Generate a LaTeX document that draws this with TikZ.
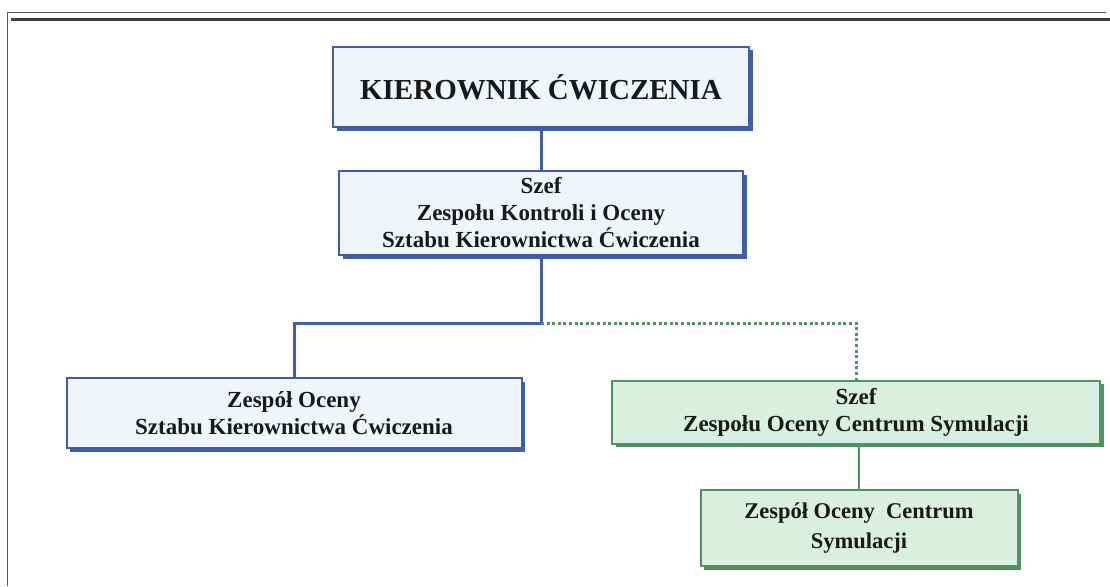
\documentclass[tikz,border=0pt]{standalone}
\usepackage{fontspec}
\setmainfont{Liberation Serif}
\usetikzlibrary{calc,shadows}
\definecolor{BlueClr}{rgb}{0.24,0.37,0.68}
\definecolor{BlueFill}{rgb}{0.94,0.96,0.98}
\definecolor{GreenClr}{rgb}{0.30,0.58,0.38}
\definecolor{GreenFill}{rgb}{0.85,0.94,0.88}
\definecolor{FrameClr}{rgb}{0.35,0.35,0.35}

\begin{document}
\begin{tikzpicture}[x=1pt,y=-1pt,
  bluebox/.style={draw=BlueClr,fill=BlueFill,line width=2pt,align=center,
    inner sep=0pt,font=\bfseries\fontsize{23}{27}\selectfont,text=black!90,
    drop shadow={shadow xshift=3.5pt,shadow yshift=-3.5pt,fill=BlueClr,opacity=1}},
  greenbox/.style={bluebox,draw=GreenClr,fill=GreenFill,
    drop shadow={shadow xshift=3.5pt,shadow yshift=-3.5pt,fill=GreenClr,opacity=1}},
  blueline/.style={draw=BlueClr,line width=3pt},
  greenline/.style={draw=GreenClr,line width=2.4pt}]

\useasboundingbox (0,0) rectangle (1110,586);

% Page frame.
\draw[FrameClr,line width=1pt] (7,586) -- (7,13) -- (1106,13);
\draw[FrameClr!70!black,line width=3pt] (11,20) -- (1110,20);

% The boxes.
\node[bluebox,minimum width=416pt,minimum height=80pt,
  font=\bfseries\fontsize{29}{32}\selectfont] (kier) at (541,87)
  {KIEROWNIK ĆWICZENIA};
\node[bluebox,minimum width=404pt,minimum height=84pt] (szef) at (541,213)
  {Szef\\Zespołu Kontroli i Oceny\\Sztabu Kierownictwa Ćwiczenia};
\node[bluebox,minimum width=455pt,minimum height=70pt] (zoskc) at (294,413)
  {Zespół Oceny\\Sztabu Kierownictwa Ćwiczenia};
\node[greenbox,minimum width=488pt,minimum height=63pt] (szefcs) at (856,412)
  {Szef\\Zespołu Oceny Centrum Symulacji};
\node[greenbox,minimum width=317pt,minimum height=76pt,
  font=\bfseries\fontsize{22.5}{30}\selectfont] (zocs) at (859,528)
  {Zespół Oceny\ \ Centrum\\Symulacji};

% Connectors.
\coordinate (fork) at (541,323);
\draw[blueline] (kier.south) -- (szef.north);
\draw[blueline] (szef.south) -- (fork) -| (zoskc.north);
\draw[greenline,line width=3pt,dash pattern=on 3pt off 2.6pt]
  (fork) -| (szefcs.north);
\draw[greenline] (zocs.north |- szefcs.south) -- (zocs.north);

\end{tikzpicture}
\end{document}
